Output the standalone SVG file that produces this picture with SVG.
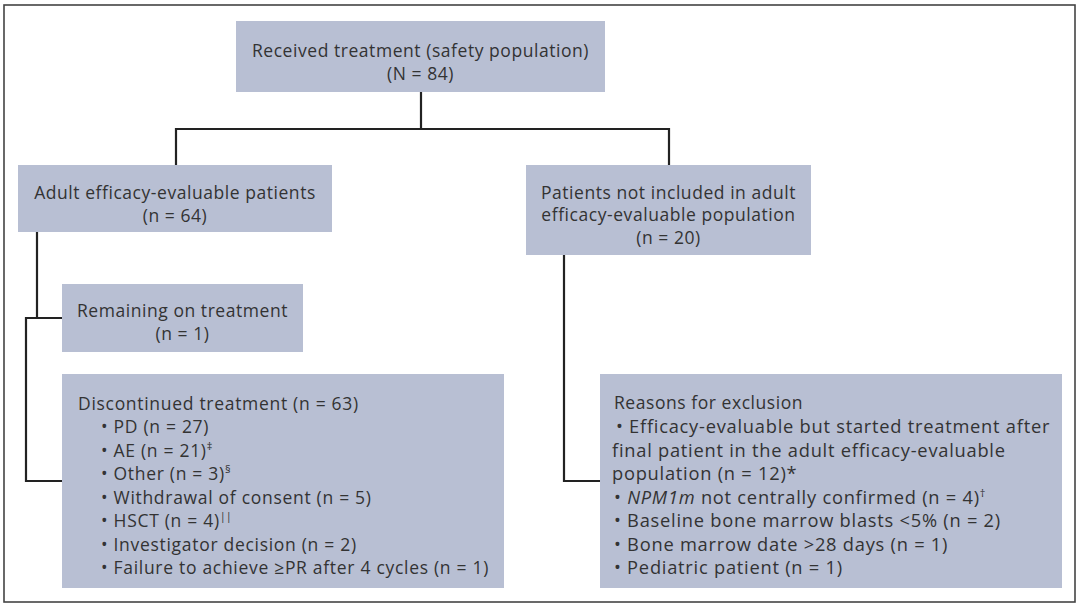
<svg xmlns="http://www.w3.org/2000/svg" width="1080" height="606" viewBox="0 0 1080 606">
<style>
.box{fill:#b8bfd3}
.t{font-family:"Open Sans","Noto Sans",sans-serif;font-size:17.5px;letter-spacing:0.55px;fill:#333}
.l{letter-spacing:0.7px}
.r{font-size:18.3px;letter-spacing:0.75px}
.c{text-anchor:middle}
.ln{fill:none;stroke:#222;stroke-width:2.2}
.sup{font-size:11px;letter-spacing:0}
</style>
<rect x="0" y="0" width="1080" height="606" fill="#fff"/>
<rect x="4" y="5" width="1071" height="597" fill="none" stroke="#444" stroke-width="1.6"/>
<g id="connectors">
<path class="ln" d="M421,92 V129 M176,168 V129 H669 V168"/>
<path class="ln" d="M37,232 V318 M63,318 H26 V481 H63"/>
<path class="ln" d="M564,255 V481 H600"/>
</g>
<g id="n_top">
<rect class="box" x="236" y="21" width="369" height="71"/>
<text class="t c" x="420.5" y="57">Received treatment (safety population)</text>
<text class="t c" x="420.5" y="80">(N = 84)</text>
</g>
<g id="n_adult">
<rect class="box" x="18" y="165" width="314" height="67"/>
<text class="t c" x="175" y="199">Adult efficacy-evaluable patients</text>
<text class="t c" x="175" y="222">(n = 64)</text>
</g>
<g id="n_notincl">
<rect class="box" x="526" y="165" width="285" height="90"/>
<text class="t c" x="668.5" y="199">Patients not included in adult</text>
<text class="t c" x="668.5" y="221">efficacy-evaluable population</text>
<text class="t c" x="668.5" y="244">(n = 20)</text>
</g>
<g id="n_remaining">
<rect class="box" x="62" y="284" width="241" height="68"/>
<text class="t c" x="182.5" y="317">Remaining on treatment</text>
<text class="t c" x="182.5" y="340">(n = 1)</text>
</g>
<g id="n_discontinued">
<rect class="box" x="62" y="374" width="442" height="214"/>
<text class="t l" x="78" y="410">Discontinued treatment (n = 63)</text>
<text class="t l" x="101" y="433">• PD (n = 27)</text>
<text class="t l" x="101" y="457">• AE (n = 21)<tspan class="sup" dy="-7">‡</tspan></text>
<text class="t l" x="101" y="480">• Other (n = 3)<tspan class="sup" dy="-7">§</tspan></text>
<text class="t l" x="101" y="504">• Withdrawal of consent (n = 5)</text>
<text class="t l" x="101" y="527">• HSCT (n = 4)<tspan class="sup" dy="-7">||</tspan></text>
<text class="t l" x="101" y="551">• Investigator decision (n = 2)</text>
<text class="t l" x="101" y="574">• Failure to achieve ≥PR after 4 cycles (n = 1)</text>
</g>
<g id="n_reasons">
<rect class="box" x="600" y="374" width="462" height="214"/>
<text class="t" x="614" y="409">Reasons for exclusion</text>
<text class="t r" x="616" y="433">• Efficacy-evaluable but started treatment after</text>
<text class="t r" x="612" y="457">final patient in the adult efficacy-evaluable</text>
<text class="t r" x="612" y="480">population (n = 12)*</text>
<text class="t r" x="614" y="504">• <tspan font-style="italic">NPM1m</tspan> not centrally confirmed (n = 4)<tspan class="sup" dy="-7">†</tspan></text>
<text class="t r" x="614" y="527">• Baseline bone marrow blasts &lt;5% (n = 2)</text>
<text class="t r" x="614" y="551">• Bone marrow date &gt;28 days (n = 1)</text>
<text class="t r" x="614" y="574">• Pediatric patient (n = 1)</text>
</g>
</svg>
